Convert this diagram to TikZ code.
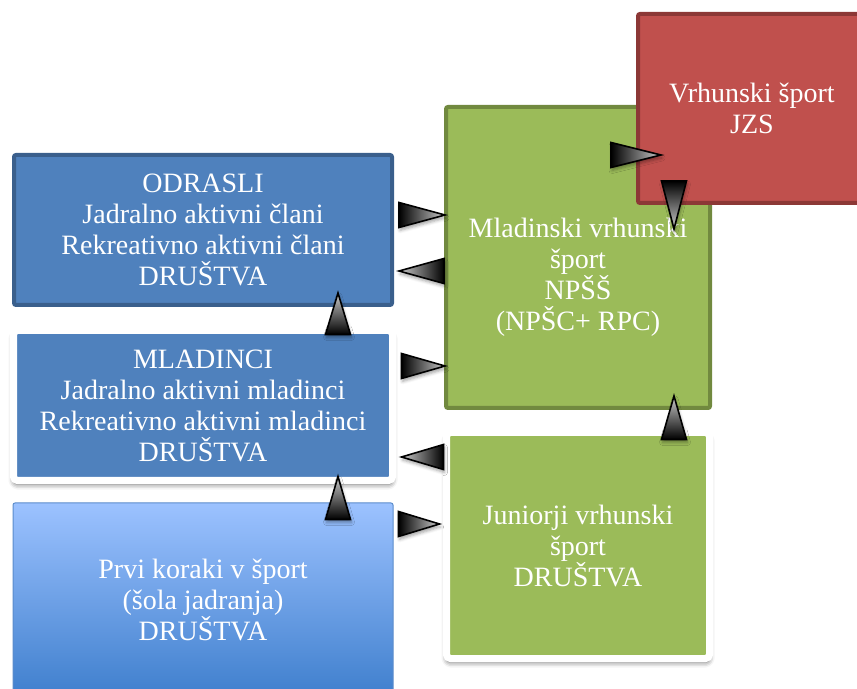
\documentclass[tikz,border=0pt]{standalone}
\usepackage{fontspec}
\setmainfont{Liberation Serif}
\usetikzlibrary{calc,shadows.blur}

\definecolor{bluefill}{HTML}{4F81BD}
\definecolor{blueline}{HTML}{3A5F8C}
\definecolor{greenfill}{HTML}{9BBB59}
\definecolor{greenline}{HTML}{71893F}
\definecolor{redfill}{HTML}{C0504D}
\definecolor{redline}{HTML}{8C3836}
\definecolor{prvitop}{HTML}{9CC2FF}
\definecolor{prvibot}{HTML}{3F7FCD}
\definecolor{prviline}{HTML}{5B8CCB}

\tikzset{
  box/.style={rectangle, rounded corners=1pt, text=white, align=center,
    font=\fontsize{14}{15.5}\selectfont},
  framed/.style={box, draw=white, line width=3.5pt, rounded corners=2pt,
    blur shadow={shadow xshift=0pt, shadow yshift=-2pt, shadow blur radius=2.5pt, shadow opacity=60}},
  tri/.style={draw=black, line width=0.8pt, line join=miter,
    blur shadow={shadow xshift=0.5pt, shadow yshift=-1.5pt, shadow blur radius=1.5pt, shadow opacity=35}},
  tr/.style={tri, left color=black, right color=gray!40},
  tl/.style={tri, right color=black, left color=gray!40},
  tu/.style={tri, bottom color=black, top color=gray!40},
  td/.style={tri, top color=black, bottom color=gray!40}
}

% arrow head from base #1 to tip #2
\newcommand\tri[3]{%
  \path #1 coordinate (tb) #2 coordinate (tt);
  \shade[#3] ($(tb)!6.25pt!90:(tt)$) -- (tt) -- ($(tb)!6.25pt!-90:(tt)$) -- cycle;}

\begin{document}
\begin{tikzpicture}[x=0.5pt,y=-0.5pt]
    \useasboundingbox (0,0) rectangle (857,689);
    \node[box, fill=bluefill, draw=blueline, line width=2pt, minimum width=189pt, minimum height=75pt]
        (odr) at (203,230) {ODRASLI\\Jadralno aktivni člani\\Rekreativno aktivni člani\\DRUŠTVA};
    \node[framed, fill=bluefill, minimum width=189.5pt, minimum height=75pt]
        (mla) at (203,405.5) {MLADINCI\\Jadralno aktivni mladinci\\Rekreativno aktivni mladinci\\DRUŠTVA};
    \node[box, draw=prviline, line width=0.5pt, top color=prvitop, middle color=prvitop!50!prvibot, bottom color=prvibot,
        minimum width=190pt, minimum height=97pt]
        (prvi) at (203,600) {Prvi koraki v šport\\(šola jadranja)\\DRUŠTVA};
    \node[box, fill=greenfill, draw=greenline, line width=2pt, minimum width=132pt, minimum height=150.5pt,
        label={[text=white, align=center, font=\fontsize{14}{15.5}\selectfont, yshift=-10pt]center:{Mladinski vrhunski\\šport\\NPŠŠ\\(NPŠC+ RPC)}}]
        (mlads) at (578,257.5) {};
    \node[framed, fill=greenfill, minimum width=131.5pt, minimum height=113pt]
        (jun) at (578,545.5) {Juniorji vrhunski\\šport\\DRUŠTVA};
    \node[box, fill=redfill, draw=redline, line width=2pt, minimum width=114pt, minimum height=94.5pt]
        (vrh) at (752,108.5) {Vrhunski šport\\JZS};
    % arrow heads
    \tri{($(odr.east|-0,215)+(5,0)$)}{($(mlads.west|-0,215)+(1,0)$)}{tr}
    \tri{($(mlads.west|-0,271)$)}{($(odr.east|-0,271)+(5,0)$)}{tl}
    \tri{($(mla.north-|338,0)+(0,7.5)$)}{($(odr.south-|338,0)+(0,-14)$)}{tu}
    \tri{($(mla.east|-0,366)+(5.5,0)$)}{($(mlads.west|-0,366)+(1,0)$)}{tr}
    \tri{($(jun.west|-0,457)+(0.5,0)$)}{($(mla.east|-0,457)+(5.5,0)$)}{tl}
    \tri{($(prvi.north-|338,0)+(0,17)$)}{($(mla.south-|338,0)+(0,-7.5)$)}{tu}
    \tri{($(prvi.east|-0,524)+(5,0)$)}{($(jun.west|-0,524)+(-3.5,0)$)}{tr}
    \tri{($(jun.north-|674,0)+(0,10.5)$)}{($(mlads.south-|674,0)+(0,-14)$)}{tu}
    \tri{($(vrh.west|-0,155)+(-25,0)$)}{($(vrh.west|-0,155)+(25,0)$)}{tr}
    \tri{($(vrh.south-|674,0)+(0,-24)$)}{($(vrh.south-|674,0)+(0,24)$)}{td}
\end{tikzpicture}
\end{document}
